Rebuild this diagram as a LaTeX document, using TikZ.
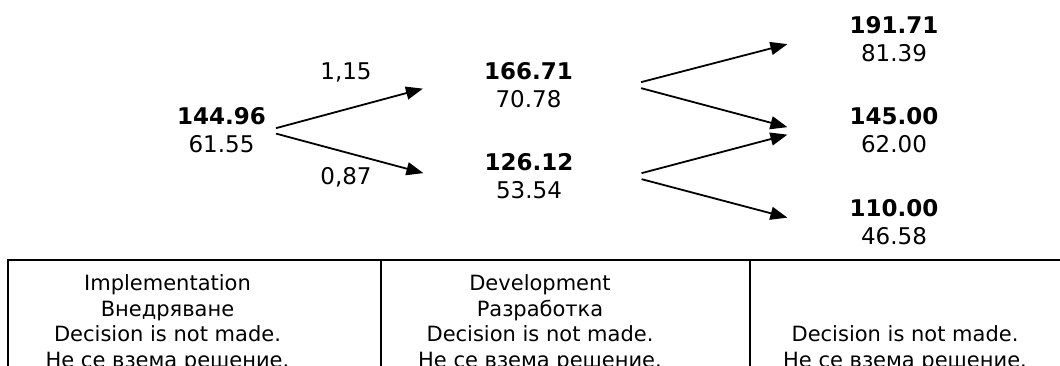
\documentclass[tikz,border=0pt]{standalone}
\usepackage{fontspec}
\setmainfont{DejaVu Sans}
\usetikzlibrary{arrows.meta}

\tikzset{
	val/.style={align=center, inner sep=0pt, anchor=north, font=\fontsize{23}{28.5}\selectfont},
	lbl/.style={inner sep=0pt, anchor=base, font=\fontsize{23}{28.5}\selectfont},
	cell/.style={align=center, inner sep=0pt, anchor=north, font=\fontsize{21}{25.5}\selectfont},
	arr/.style={line width=1.8pt, -{Triangle[length=17pt,width=13pt]}},
	rule/.style={line width=1.7pt},
}

\begin{document}
\begin{tikzpicture}[x=1pt,y=-1pt]
			\useasboundingbox (0,0) rectangle (1060,365);
			\clip (0,0) rectangle (1060,365);
			
			% Value nodes
			\node[val] (n0) at (221.5,107) {\textbf{144.96}\\61.55};
			\node[val] (n1) at (528.5,62) {\textbf{166.71}\\70.78};
			\node[val] (n2) at (529,153) {\textbf{126.12}\\53.54};
			\node[val] (n3) at (894,16) {\textbf{191.71}\\81.39};
			\node[val] (n4) at (894,107) {\textbf{145.00}\\62.00};
			\node[val] (n5) at (894,199) {\textbf{110.00}\\46.58};
			
			% Arrows
			\draw[arr] ([shift={(10,-2)}]n0.east) -- ([shift={(-61,3.5)}]n1.west);
			\draw[arr] ([shift={(10,3.5)}]n0.east) -- ([shift={(-61,-3)}]n2.west);
			\draw[arr] ([shift={(68,-3)}]n1.east) -- ([shift={(-62,5)}]n3.west);
			\draw[arr] ([shift={(68,3)}]n1.east) -- ([shift={(-62,-3)}]n4.west);
			\draw[arr] ([shift={(68,-3)}]n2.east) -- ([shift={(-62,4.5)}]n4.west);
			\draw[arr] ([shift={(68,3)}]n2.east) -- ([shift={(-62,-4.5)}]n5.west);
			
			% Text Node
			\node[lbl] (u) at (346,79) {1,15};
			% Text Node
			\node[lbl] (d) at (346,184) {0,87};
			
			% Table
			\draw[rule] (8,380) -- (8,260) -- (1080,260);
			\draw[rule] (381,260) -- (381,380);
			\draw[rule] (750,260) -- (750,380);
			
			% Cells
			\node[cell] (c1) at (167.5,274.5) {Implementation\\Внедряване\\Decision is not made.\\Не се взема решение.};
			\node[cell] (c2) at (540,274.5) {Development\\Разработка\\Decision is not made.\\Не се взема решение.};
			\node[cell] (c3) at (905,325.5) {Decision is not made.\\Не се взема решение.};
			
\end{tikzpicture}
\end{document}
